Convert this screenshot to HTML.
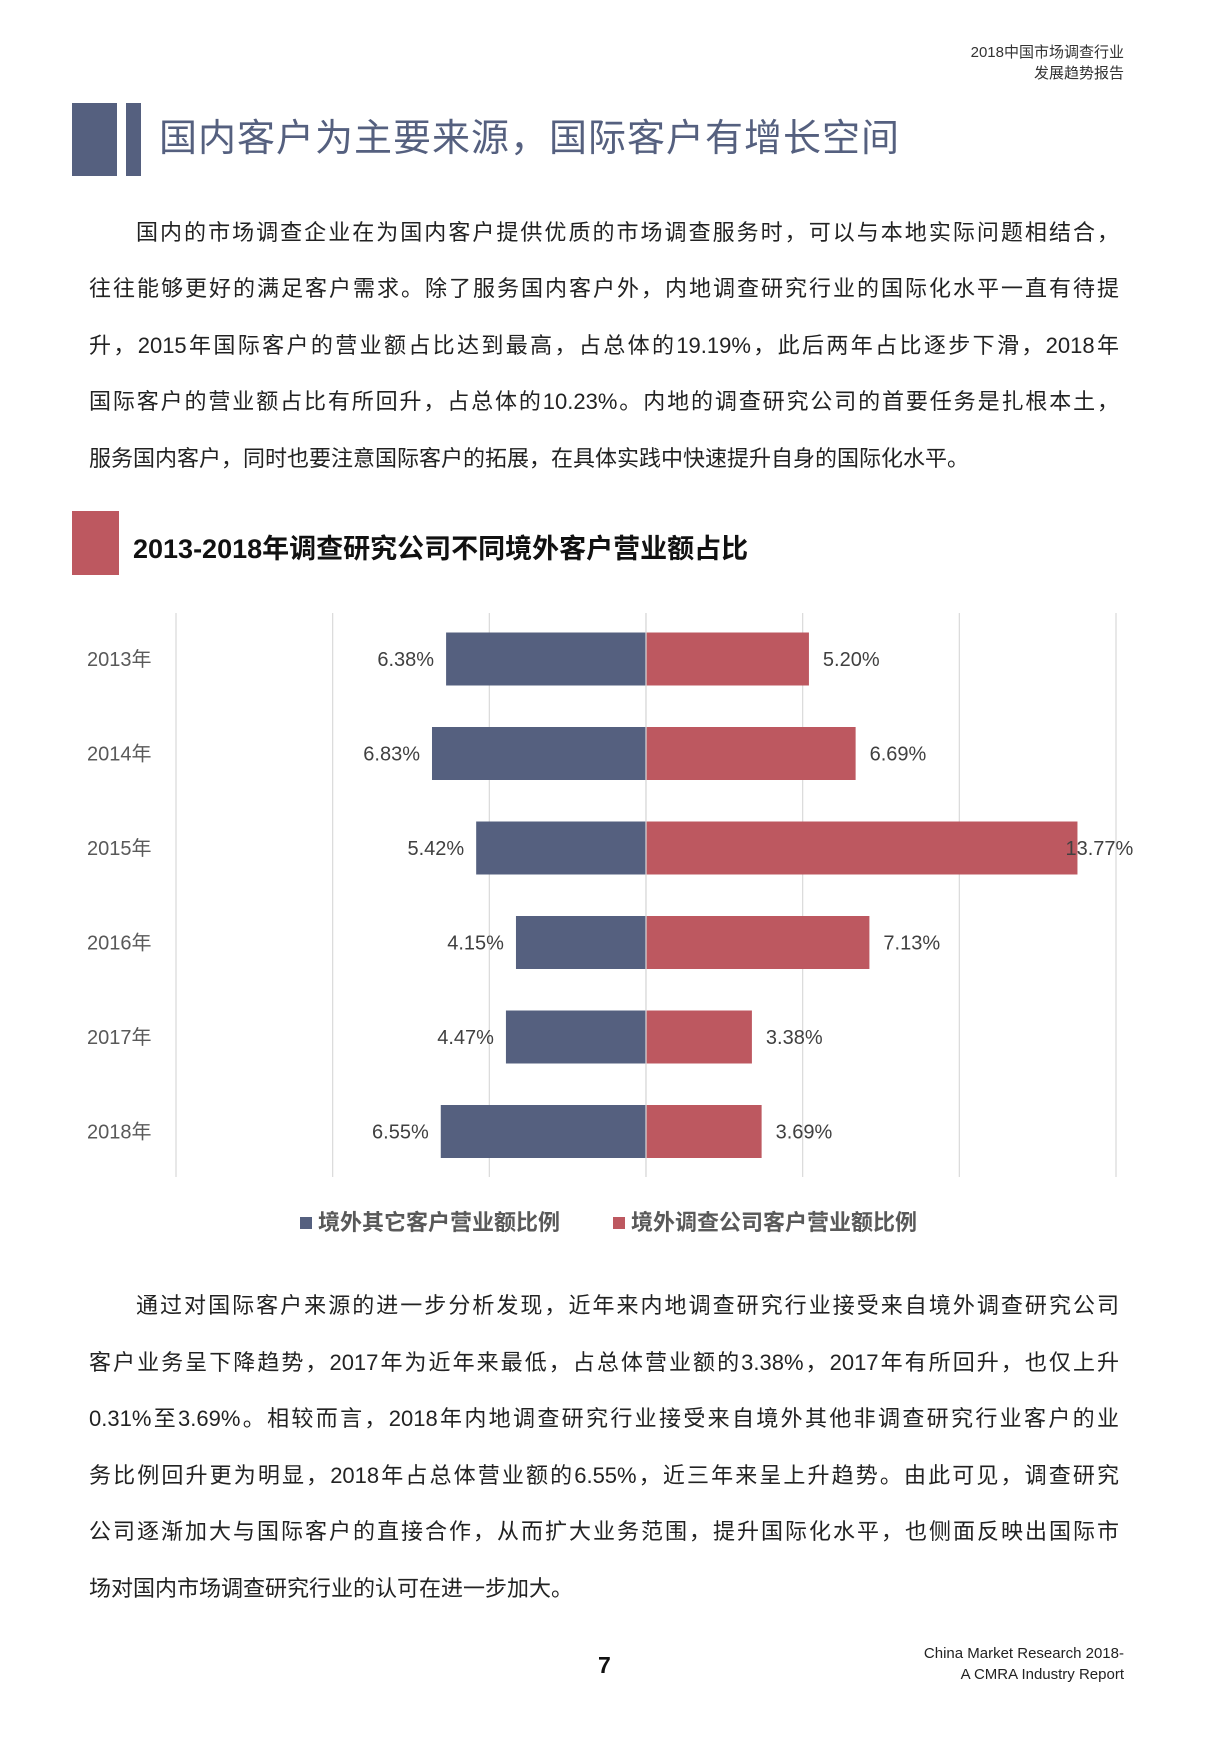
<!DOCTYPE html>
<html><head><meta charset="utf-8">
<style>
body{margin:0;width:1208px;height:1744px;background:#fff;position:relative;font-family:"Liberation Sans","Noto Sans CJK SC",sans-serif;overflow:hidden}
.abs{position:absolute}
.hdr{right:84px;font-size:15px;color:#333;text-align:right;line-height:21px}
.p{position:absolute;left:89px;width:1030px;font-size:22px;color:#222;text-align:justify;text-align-last:justify;white-space:nowrap;line-height:30px}
.p.last{text-align-last:left}
.p.ind{left:136px;width:983px}
</style></head><body>
<div class="abs hdr" style="top:42px">2018中国市场调查行业<br>发展趋势报告</div>
<div class="abs" style="left:72px;top:103px;width:45px;height:73px;background:#55607f"></div>
<div class="abs" style="left:126px;top:103px;width:15px;height:73px;background:#55607f"></div>
<div class="abs" style="left:159px;top:114px;font-size:38px;color:#55607f;line-height:50px;letter-spacing:1px">国内客户为主要来源，国际客户有增长空间</div>

<div>
<div class="p ind" style="top:218px">国内的市场调查企业在为国内客户提供优质的市场调查服务时，可以与本地实际问题相结合，</div>
<div class="p" style="top:274px">往往能够更好的满足客户需求。除了服务国内客户外，内地调查研究行业的国际化水平一直有待提</div>
<div class="p" style="top:331px">升，2015年国际客户的营业额占比达到最高，占总体的19.19%，此后两年占比逐步下滑，2018年</div>
<div class="p" style="top:387px">国际客户的营业额占比有所回升，占总体的10.23%。内地的调查研究公司的首要任务是扎根本土，</div>
<div class="p last" style="top:444px">服务国内客户，同时也要注意国际客户的拓展，在具体实践中快速提升自身的国际化水平。</div>
</div>

<div class="abs" style="left:72px;top:511px;width:47px;height:64px;background:#bd5860"></div>
<div class="abs" style="left:133px;top:531px;font-size:27px;font-weight:bold;color:#111;line-height:36px">2013-2018年调查研究公司不同境外客户营业额占比</div>

<svg class="abs" style="left:0;top:0" width="1208" height="1744">
<g id="grid"></g><g id="bars"></g><g id="labels"></g>
</svg>

<div class="abs" style="left:300px;top:1217px;width:12px;height:12px;background:#55607f"></div>
<div class="abs" style="left:318px;top:1208px;font-size:22px;font-weight:bold;color:#595959;line-height:30px">境外其它客户营业额比例</div>
<div class="abs" style="left:613px;top:1217px;width:12px;height:12px;background:#bd5860"></div>
<div class="abs" style="left:631px;top:1208px;font-size:22px;font-weight:bold;color:#595959;line-height:30px">境外调查公司客户营业额比例</div>

<div>
<div class="p ind" style="top:1291px">通过对国际客户来源的进一步分析发现，近年来内地调查研究行业接受来自境外调查研究公司</div>
<div class="p" style="top:1348px">客户业务呈下降趋势，2017年为近年来最低，占总体营业额的3.38%，2017年有所回升，也仅上升</div>
<div class="p" style="top:1404px">0.31%至3.69%。相较而言，2018年内地调查研究行业接受来自境外其他非调查研究行业客户的业</div>
<div class="p" style="top:1461px">务比例回升更为明显，2018年占总体营业额的6.55%，近三年来呈上升趋势。由此可见，调查研究</div>
<div class="p" style="top:1517px">公司逐渐加大与国际客户的直接合作，从而扩大业务范围，提升国际化水平，也侧面反映出国际市</div>
<div class="p last" style="top:1574px">场对国内市场调查研究行业的认可在进一步加大。</div>
</div>

<div class="abs" style="left:598px;top:1652px;font-size:23px;font-weight:bold;color:#111">7</div>
<div class="abs hdr" style="top:1643px;font-size:15px;color:#222;line-height:21px">China Market Research 2018-<br>A CMRA Industry Report</div>

<script>
const years=["2013年","2014年","2015年","2016年","2017年","2018年"];
const otherClients=[6.38,6.83,5.42,4.15,4.47,6.55];
const researchClients=[5.20,6.69,13.77,7.13,3.38,3.69];
const gridTicks=[-15,-10,-5,0,5,10,15];
const NS="http://www.w3.org/2000/svg";
const x0=176,x1=1116,top0=613,bot=1177,rowH=94.5,barH=53;
const xs=v=>x0+(v+15)/30*(x1-x0);
const yc=i=>top0+46+i*rowH;
function mk(t,a,p){const e=document.createElementNS(NS,t);for(const k in a)e.setAttribute(k,a[k]);p.appendChild(e);return e;}
const G=document.getElementById('grid'),B=document.getElementById('bars'),L=document.getElementById('labels');
gridTicks.forEach(t=>{const l=mk('line',{x1:xs(t),x2:xs(t),y1:top0,y2:bot,stroke:'#d9d9d9','stroke-width':1.2},G);

});
years.forEach((y,i)=>{
 const c=yc(i);
 const t=mk('text',{x:87,y:c+7,'font-size':20,fill:'#595959','font-family':'Liberation Sans, Noto Sans CJK SC, sans-serif'},L);t.textContent=y;
 
 
 const o=otherClients[i],r=researchClients[i];
 const b1=mk('rect',{x:xs(-o),y:c-barH/2,width:xs(0)-xs(-o),height:barH,fill:'#55607f'},B);
 
 
 const b2=mk('rect',{x:xs(0),y:c-barH/2,width:xs(r)-xs(0),height:barH,fill:'#bd5860'},B);
 
 
 const t1=mk('text',{x:xs(-o)-12,y:c+7,'text-anchor':'end','font-size':20,fill:'#404040','font-family':'Liberation Sans, sans-serif'},L);t1.textContent=o.toFixed(2)+'%';
 
 
 const rx=r>12?xs(r)-12:xs(r)+14;
 const t2=mk('text',{x:rx,y:c+7,'font-size':20,fill:'#404040','font-family':'Liberation Sans, sans-serif'},L);t2.textContent=r.toFixed(2)+'%';
 
 
});
const ax=mk('line',{x1:xs(0),x2:xs(0),y1:top0,y2:bot,stroke:'#d9d9d9','stroke-width':1.2},B);


</script>
</body></html>
